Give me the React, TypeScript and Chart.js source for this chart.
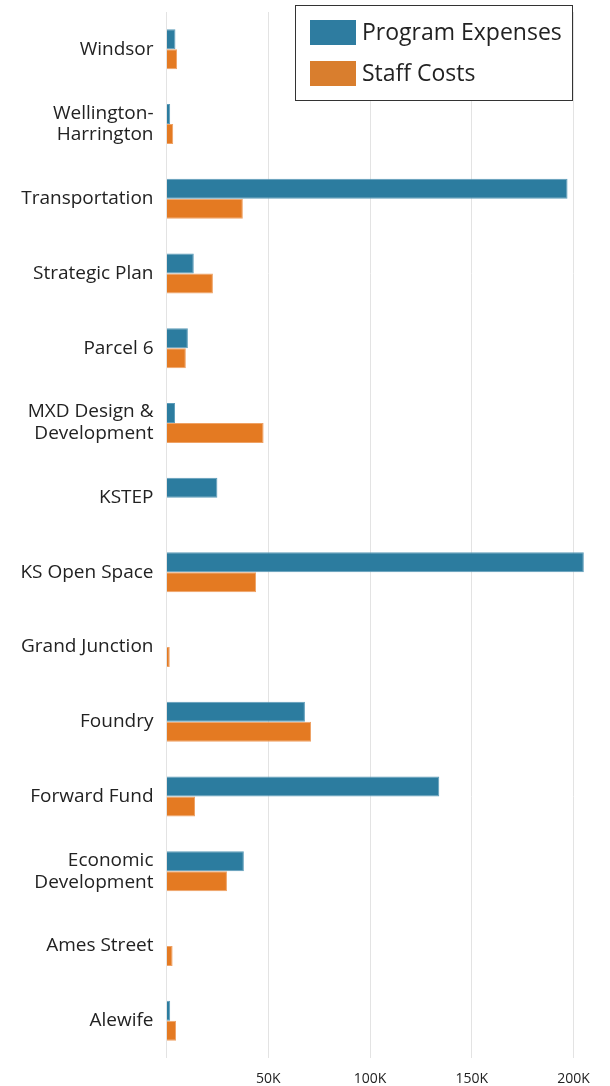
import React, { useEffect, useRef } from "react";
import { Chart, registerables } from "chart.js";

Chart.register(...registerables);

const categories: (string | string[])[] = [
  "Windsor",
  ["Wellington-", "Harrington"],
  "Transportation",
  "Strategic Plan",
  "Parcel 6",
  ["MXD Design &", "Development"],
  "KSTEP",
  "KS Open Space",
  "Grand Junction",
  "Foundry",
  "Forward Fund",
  ["Economic", "Development"],
  "Ames Street",
  "Alewife",
];

const programExpenses: (number | null)[] = [
  4400, 1800, 197000, 13400, 10500, 4200, 25000, 205000, null, 68000, 134000, 38000, null, 1800,
];

const staffCosts: (number | null)[] = [
  5200, 3300, 37500, 22800, 9500, 47700, null, 44000, 1600, 71000, 14000, 29700, 3000, 4700,
];

const seriesLabels = ["Program Expenses", "Staff Costs"];
const seriesColors = ["#2c7c9f", "#e47a22"];
const legendColors = ["#2e7ca0", "#d97e2e"];
const tickValues = [50000, 100000, 150000, 200000];
const tickLabels = ["50K", "100K", "150K", "200K"];

const FONT = "'Open Sans', 'Noto Sans', sans-serif";

const boxLegend = {
  id: "boxLegend",
  afterDraw(chart: any) {
    const ctx = chart.ctx;
    const x = 295.5, y = 5.5, w = 277, h = 95;
    ctx.save();
    ctx.fillStyle = "#ffffff";
    ctx.fillRect(x, y, w, h);
    ctx.strokeStyle = "#333333";
    ctx.lineWidth = 1;
    ctx.strokeRect(x, y, w, h);
    ctx.font = `23px ${FONT}`;
    ctx.textBaseline = "middle";
    ctx.textAlign = "left";
    chart.data.datasets.forEach((ds: any, i: number) => {
      const rowY = 20 + i * 41;
      ctx.fillStyle = legendColors[i];
      ctx.fillRect(310, rowY, 46, 25);
      ctx.fillStyle = "#222222";
      ctx.fillText(ds.label, 362, rowY + 13);
    });
    ctx.restore();
  },
};

export default function App() {
  const ref = useRef<HTMLCanvasElement | null>(null);

  useEffect(() => {
    if (!ref.current) return;
    const chart = new Chart(ref.current, {
      type: "bar",
      data: {
        labels: categories,
        datasets: [
          {
            label: seriesLabels[0],
            data: programExpenses,
            backgroundColor: seriesColors[0],
            borderColor: "#5d9cb9",
            borderWidth: 1,
          },
          {
            label: seriesLabels[1],
            data: staffCosts,
            backgroundColor: seriesColors[1],
            borderColor: "#efa265",
            borderWidth: 1,
          },
        ],
      },
      options: {
        indexAxis: "y",
        animation: false,
        responsive: false,
        maintainAspectRatio: false,
        layout: { padding: { top: 12, right: 16, left: 0, bottom: 0 } },
        datasets: {
          bar: { categoryPercentage: 0.535, barPercentage: 1.0 },
        },
        plugins: {
          legend: { display: false },
          tooltip: { enabled: false },
        },
        scales: {
          x: {
            type: "linear",
            min: 0,
            max: 210000,
            afterBuildTicks: (scale: any) => {
              scale.ticks = [0, ...tickValues].map((v) => ({ value: v }));
            },
            afterFit: (scale: any) => {
              scale.height = 28;
              scale.paddingLeft = 0;
              scale.paddingRight = 0;
            },
            grid: { color: "#e3e3e3", drawTicks: false, lineWidth: 1 },
            border: { display: false },
            ticks: {
              padding: 13,
              color: "#222222",
              font: { family: FONT, size: 14 },
              callback: (v: any) => {
                const idx = tickValues.indexOf(Number(v));
                return idx >= 0 ? tickLabels[idx] : "";
              },
            },
          },
          y: {
            afterFit: (scale: any) => {
              scale.width = 166.5;
              scale.paddingTop = 0;
              scale.paddingBottom = 0;
            },
            grid: { display: false, drawTicks: false },
            border: { display: false },
            ticks: {
              padding: 13,
              color: "#222222",
              font: { family: FONT, size: 19, lineHeight: 1.15 },
              autoSkip: false,
            },
          },
        },
      },
      plugins: [boxLegend],
    } as any);
    return () => chart.destroy();
  }, []);

  return (
    <div style={{ position: "fixed", left: 0, top: 0, width: 610, height: 1086, background: "#fff" }}>
      <canvas ref={ref} width={610} height={1086} style={{ width: 610, height: 1086, display: "block" }} />
    </div>
  );
}
